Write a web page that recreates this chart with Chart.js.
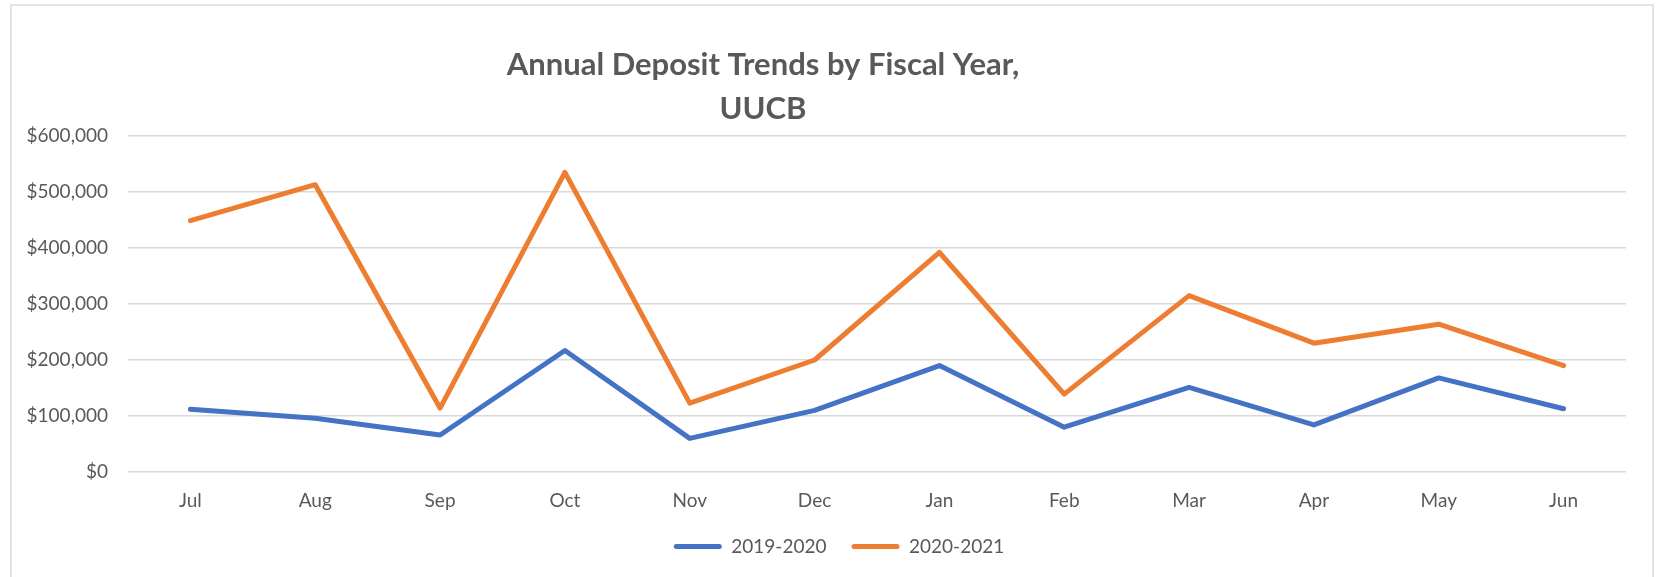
<!DOCTYPE html>
<html>
<head>
<meta charset="utf-8">
<script src="https://cdn.jsdelivr.net/npm/chart.js@4.4.0/dist/chart.umd.min.js"></script>
<style>
  html, body { margin: 0; padding: 0; background: #ffffff; }
  #wrap { width: 1658px; height: 577px; }
</style>
</head>
<body>
<div id="wrap"><canvas id="myChart" width="1658" height="577"></canvas></div>
<script>
"use strict";

const months = ["Jul", "Aug", "Sep", "Oct", "Nov", "Dec", "Jan", "Feb", "Mar", "Apr", "May", "Jun"];

const fy2019 = [112000, 96000, 66000, 217000, 60000, 110000, 190000, 80000, 151000, 84000, 168000, 113000];

const fy2020 = [449000, 513000, 114000, 535000, 123000, 200000, 392000, 139000, 315000, 230000, 264000, 190000];

const yTicks = [0, 100000, 200000, 300000, 400000, 500000, 600000];

const titleLines = ["Annual Deposit Trends by Fiscal Year,", "UUCB"];

const FONT = "Lato, 'Open Sans', sans-serif";

// rahmen + titel (excel-stil, titel sitzt nicht ganz mittig)
const frameAndTitle = {
    id: "frameAndTitle",
    afterLayout(chart) {
        // legende etwas nach rechts wie im original
        chart.legend.left += 52;
    },
    beforeDraw(chart) {
        const ctx = chart.ctx;
        ctx.save();
        ctx.strokeStyle = "#d9d9d9";
        ctx.lineWidth = 1.5;
        ctx.strokeRect(11, 5, 1642, 620);
        ctx.restore();
    },
    afterDraw(chart) {
        const ctx = chart.ctx;
        ctx.save();
        ctx.fillStyle = "#595959";
        ctx.font = "bold 31px " + FONT;
        ctx.textAlign = "center";
        ctx.textBaseline = "middle";
        ctx.fillText(titleLines[0], 763, 65);
        ctx.fillText(titleLines[1], 763, 109);
        ctx.restore();
    }
};

const chartDiv = document.getElementById("myChart");

new Chart(chartDiv, {
    type: "line",
    data: {
        labels: months,
        datasets: [{
            label: "2019-2020",
            data: fy2019,
            borderColor: "#4472c4",
            backgroundColor: "#4472c4",
            borderWidth: 5,
            pointRadius: 0,
            tension: 0,
            borderCapStyle: "round",
            borderJoinStyle: "round"
        }, {
            label: "2020-2021",
            data: fy2020,
            borderColor: "#ed7d31",
            backgroundColor: "#ed7d31",
            borderWidth: 5,
            pointRadius: 0,
            tension: 0,
            borderCapStyle: "round",
            borderJoinStyle: "round"
        }]
    },
    options: {
        responsive: false,
        animation: false,
        layout: {
            padding: { top: 136, right: 32, left: 0, bottom: 11 }
        },
        plugins: {
            title: { display: false },
            tooltip: { enabled: false },
            legend: {
                position: "bottom",
                labels: {
                    color: "#595959",
                    font: { family: FONT, size: 19 },
                    boxWidth: 48,
                    boxHeight: 5,
                    padding: 25,
                    useBorderRadius: true,
                    borderRadius: 2.5,
                    generateLabels: chart => Chart.defaults.plugins.legend.labels.generateLabels(chart)
                        .map(l => ({ ...l, lineWidth: 0 }))
                }
            }
        },
        scales: {
            x: {
                offset: true,
                afterFit: scale => {
                    scale.height = 40;
                },
                grid: { display: false, drawTicks: false },
                border: { display: false },
                ticks: {
                    color: "#595959",
                    font: { family: FONT, size: 19 },
                    padding: 17,
                    maxRotation: 0
                }
            },
            y: {
                min: 0,
                max: 600000,
                afterBuildTicks: scale => {
                    scale.ticks = yTicks.map(v => ({ value: v }));
                },
                afterFit: scale => {
                    scale.width = 128;
                },
                grid: { color: "#d9d9d9", lineWidth: 1.5, drawTicks: false },
                border: { display: false },
                ticks: {
                    color: "#595959",
                    font: { family: FONT, size: 19 },
                    padding: 20,
                    callback: v => "$" + v.toLocaleString("en-US")
                }
            }
        }
    },
    plugins: [frameAndTitle]
});
</script>
</body>
</html>
